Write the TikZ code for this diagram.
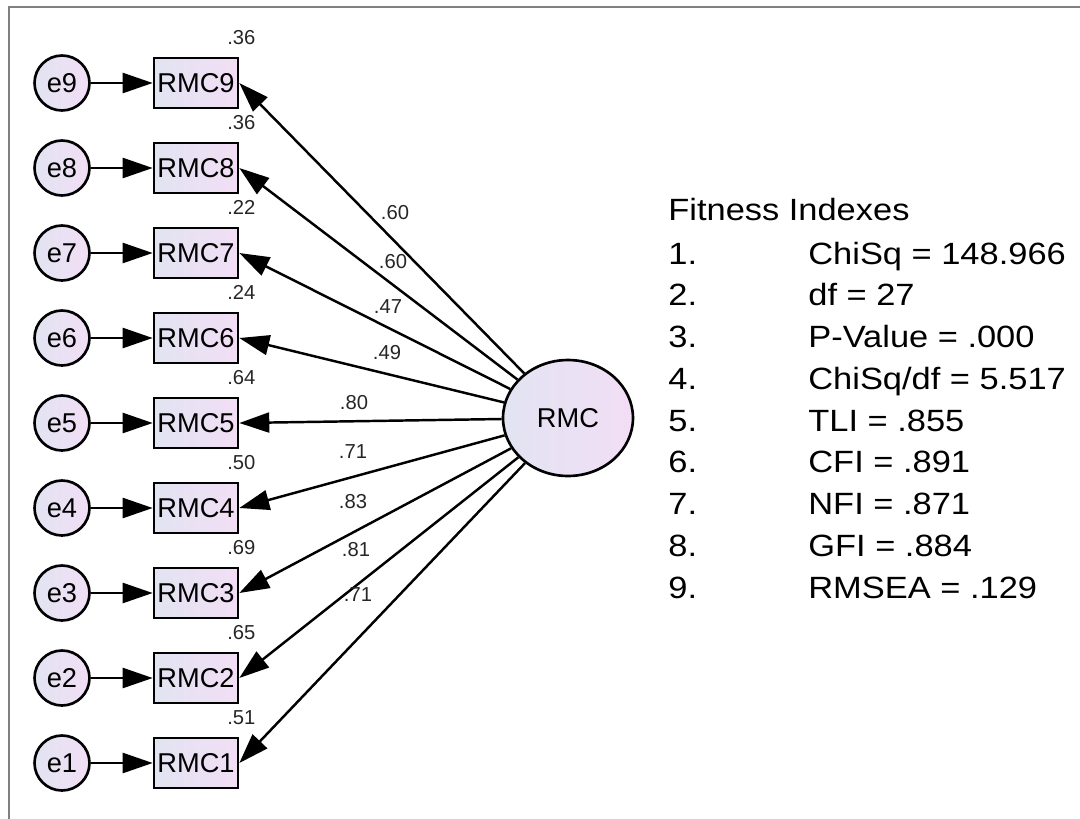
\documentclass[tikz,border=0pt]{standalone}
\usepackage{fontspec}
\setmainfont{Liberation Sans}
\newfontfamily\idxfont[FakeStretch=1.12]{Liberation Sans}
\usepackage{xcolor}
\usepackage{tikz}
\usetikzlibrary{arrows.meta, positioning, calc, shapes.geometric}
\definecolor{nodeL}{RGB}{226,228,242}
\definecolor{nodeR}{RGB}{242,222,245}
\definecolor{framegray}{RGB}{128,128,128}

\begin{document}
\begin{tikzpicture}[
  x=0.02cm, y=-0.02cm,
  err/.style={circle, draw, line width=1.5pt, left color=nodeL, right color=nodeR, minimum size=1.1cm, inner sep=0pt, font=\fontsize{15.5}{15.5}\selectfont},
  obs/.style={rectangle, draw, line width=1.5pt, left color=nodeL, right color=nodeR, minimum width=1.68cm, minimum height=1cm, inner sep=0pt, font=\fontsize{15.5}{15.5}\selectfont},
  lat/.style={ellipse, draw, line width=1.5pt, left color=nodeL, right color=nodeR, minimum width=2.6cm, minimum height=2.32cm, inner sep=0pt, font=\fontsize{15.5}{15.5}\selectfont},
  num/.style={font=\fontsize{11.5}{11.5}\selectfont, text=black!85, inner sep=0pt},
  idx/.style={font=\idxfont\fontsize{17.5}{20}\selectfont, anchor=base west, inner sep=0pt},
  path/.style={->, line width=1.4pt},
  >={Triangle[length=6mm, width=4mm]}
]
  \useasboundingbox (0,0) rectangle (1080,819);

  % Frame
  \draw[framegray, line width=1.2pt] (9,819) -- (9,7) -- (1080,7);

  % Latent factor
  \node[lat] (rmc) at (568,418) {RMC};

  % Indicators, error terms, variances
  \foreach \i/\sq in {9/.36, 8/.36, 7/.22, 6/.24, 5/.64, 4/.50, 3/.69, 2/.65, 1/.51} {
    \node[obs] (b\i) at (196, {83+(9-\i)*85}) {RMC\i};
    \node[err] (e\i) at (62, {83+(9-\i)*85}) {e\i};
    \node[num] (v\i) at ($(b\i.north east)+(2,-19)$) {\sq};
    \draw[path] (e\i) -- (b\i);
    \draw[path] (rmc) -- (b\i.east);
  }

  % Loadings
  \foreach \lx/\ly/\ld [count=\k] in {395/213/.60, 393/262/.60, 388/307/.47, 387/353/.49, 354/403/.80, 353/452/.71, 353/502/.83, 356/550/.81, 358/595/.71} {
    \node[num] (l\k) at (\lx,\ly) {\ld};
  }

  % Fit indices
  \node[idx] (title) at (668,220) {Fitness Indexes};
  \foreach \t [count=\k] in {ChiSq = 148.966, df = 27, P-Value = .000, ChiSq/df = 5.517, TLI = .855, CFI = .891, NFI = .871, GFI = .884, RMSEA = .129} {
    \node[idx] (n\k) at (668, {264+41.75*(\k-1)}) {\k.};
    \node[idx] (t\k) at (808, {264+41.75*(\k-1)}) {\t};
  }
\end{tikzpicture}
\end{document}
